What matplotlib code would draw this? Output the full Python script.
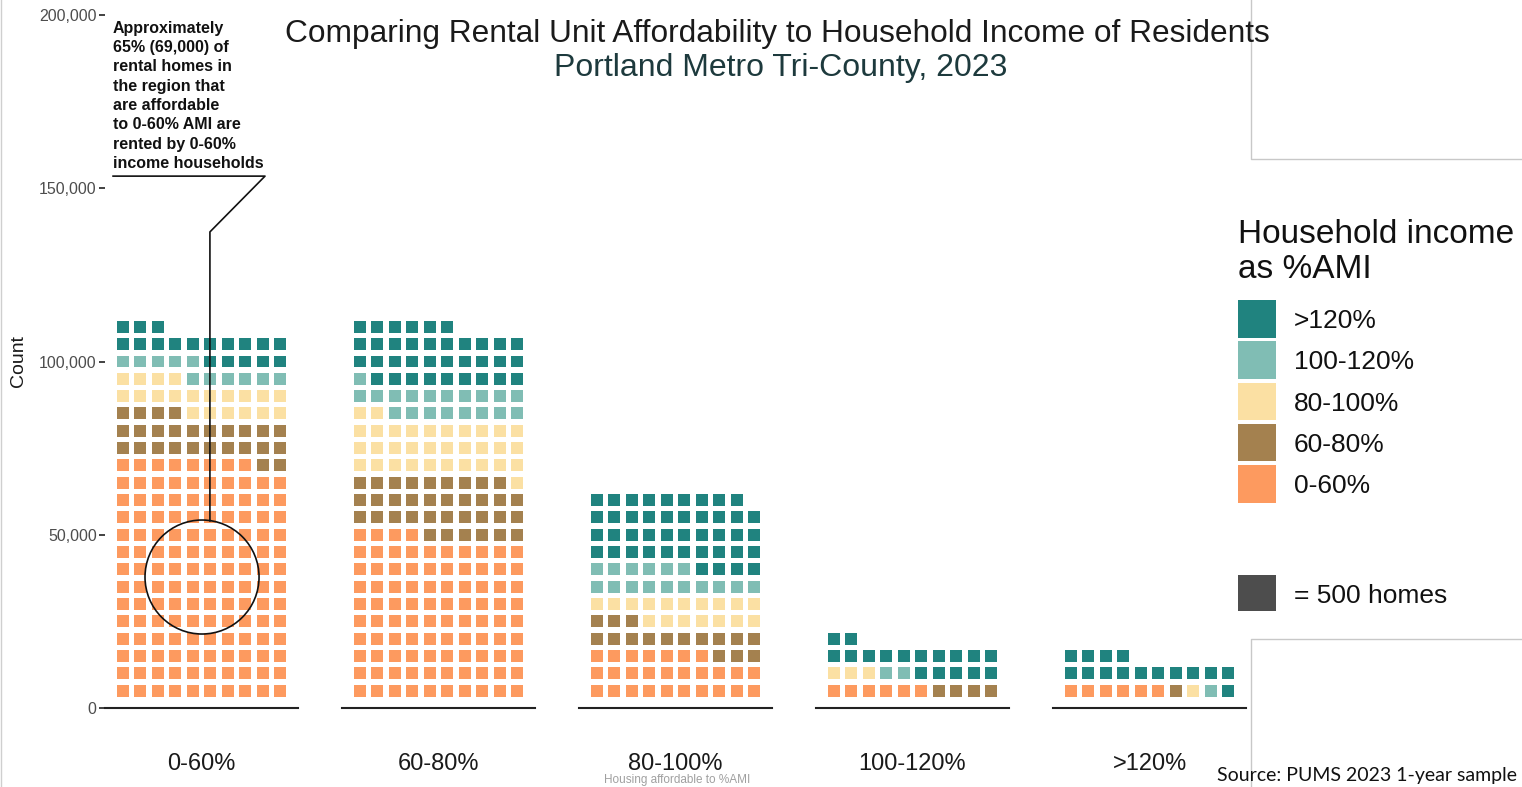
import matplotlib
matplotlib.use("Agg")
import matplotlib.pyplot as plt
import numpy as np
from matplotlib.patches import Rectangle, Ellipse
from matplotlib.lines import Line2D

plt.rcParams['font.family'] = ['Liberation Sans', 'DejaVu Sans']

# facets: rental units grouped by the %AMI they are affordable to
groups = ["0-60%", "60-80%", "80-100%", "100-120%", ">120%"]
# household income of the renters, bottom to top in each waffle
income_levels = ["0-60%", "60-80%", "80-100%", "100-120%", ">120%"]
income_colors = ["#fd9a5f", "#a4814f", "#fbe0a3", "#80bdb4", "#20837f"]

# number of rental homes by household income (same order as income_levels)
homes_0_60 = [69000, 13000, 10000, 5500, 9000]
homes_60_80 = [47000, 17500, 16500, 9500, 17500]
homes_80_100 = [13500, 8000, 8500, 8000, 21500]
homes_100_120 = [3000, 2000, 1500, 1000, 8500]
homes_gt_120 = [3000, 500, 500, 500, 7500]
homes = [homes_0_60, homes_60_80, homes_80_100, homes_100_120, homes_gt_120]

homes_per_square = 500
squares_per_row = 10
row_value = homes_per_square * squares_per_row

y_ticks = [0, 50000, 100000, 150000, 200000]

W, H = 1522, 787
fig = plt.figure(figsize=(W / 100, H / 100), dpi=100)

def fx(px):
    return px / W

def fy(py):
    return 1 - py / H

# panel geometry (pixels)
panel_left, panel_step, panel_w = 105, 237, 193
panel_top, panel_bottom = 15, 708
sq_w = 0.68
sq_h = 3460

axes = []
for g, grp in enumerate(groups):
    left = panel_left + g * panel_step
    ax = fig.add_axes([fx(left), fy(panel_bottom), panel_w / W, (panel_bottom - panel_top) / H])
    ax.set_xlim(-1, squares_per_row)
    ax.set_ylim(0, 200000)
    for s in ['top', 'right', 'left']:
        ax.spines[s].set_visible(False)
    ax.spines['bottom'].set_linewidth(1.5)
    ax.spines['bottom'].set_color('#222222')
    ax.set_xticks([])
    ax.set_yticks(y_ticks)
    if g == 0:
        ax.set_yticklabels(['{:,}'.format(t) for t in y_ticks], fontsize=11.5, color='#4d4d4d')
        ax.tick_params(axis='y', length=4, width=1.3, color='#333333', pad=2)
    else:
        ax.tick_params(axis='y', length=0, labelleft=False)

    # waffle: fill left to right, bottom to top
    start = 0
    for lvl, n_homes in enumerate(homes[g]):
        n = int(round(n_homes / homes_per_square))
        idx = np.arange(start, start + n)
        start += n
        cols = idx % squares_per_row
        rows = idx // squares_per_row
        centers = (rows + 1) * row_value
        ax.bar(cols, sq_h, bottom=centers - sq_h / 2, width=sq_w,
               color=income_colors[lvl], linewidth=0)

    ax.text(4.5, -0.081, grp, transform=ax.get_xaxis_transform(),
            ha='center', va='center', fontsize=17, color='#1a1a1a')
    axes.append(ax)

# annotation on the first panel
ax0 = axes[0]
ax0.add_patch(Ellipse((4.53, 37800), 6.5, 32900, fill=False, edgecolor='#111111',
                      linewidth=1.2, clip_on=False, zorder=5))
ax0.plot([4.98, 4.98, 8.12, -0.54], [54000, 137400, 153500, 153500],
         color='#111111', linewidth=1.2, clip_on=False, zorder=5)
ax0.text(-0.54, 155000,
         "Approximately\n65% (69,000) of\nrental homes in\nthe region that\nare affordable\n"
         "to 0-60% AMI are\nrented by 0-60%\nincome households",
         ha='left', va='bottom', fontsize=11.5, fontweight='bold', color='#111111',
         linespacing=1.36, clip_on=False)

# titles
fig.text(fx(777), fy(34), "Comparing Rental Unit Affordability to Household Income of Residents",
         ha='center', va='center', fontsize=22.8, color='#1a1a1a')
fig.text(fx(781), fy(68), "Portland Metro Tri-County, 2023",
         ha='center', va='center', fontsize=23, color='#1d3a3d')

fig.text(fx(18), fy(361), "Count", rotation=90, ha='center', va='center',
         fontsize=14, color='#1a1a1a')
fig.text(fx(677), fy(786.5), "Housing affordable to %AMI", ha='center', va='bottom',
         fontsize=8.5, color='#a0a0a0')

# legend drawn in pixel coordinates
lg = fig.add_axes([fx(1230), 0, (W - 1230) / W, 1])
lg.set_xlim(1230, W)
lg.set_ylim(H, 0)
lg.axis('off')
lg.text(1238, 243, "Household income", fontsize=24, va='baseline', ha='left', color='#111111')
lg.text(1238, 278, "as %AMI", fontsize=24, va='baseline', ha='left', color='#111111')
for i, lvl in enumerate(income_levels[::-1]):
    top = 300 + i * 41.3
    lg.add_patch(Rectangle((1238, top), 38, 37.5, facecolor=income_colors[::-1][i],
                           edgecolor='none'))
    lg.text(1294, top + 21, lvl, fontsize=19, va='center', ha='left', color='#111111')
lg.add_patch(Rectangle((1238, 575), 38, 36, facecolor='#4d4d4d', edgecolor='none'))
lg.text(1294, 596, "= {} homes".format(homes_per_square), fontsize=19, va='center',
        ha='left', color='#111111')

# stray frame outlines at the right edge
lg.plot([W, 1250.5, 1250.5], [158.5, 158.5, 0], color='#c8c8c8', linewidth=1, clip_on=False)
lg.plot([W, 1250.5, 1250.5], [638.5, 638.5, H], color='#c8c8c8', linewidth=1, clip_on=False)

fig.add_artist(Line2D([fx(1.5), fx(1.5)], [0, 1], color='#cfcfcf', linewidth=1,
                      transform=fig.transFigure))

fig.text(fx(1517), fy(776), "Source: PUMS 2023 1-year sample", ha='right', va='center',
         fontsize=14, family=['Lato', 'DejaVu Sans'], color='#111111')

fig.savefig("out.png", dpi=100, facecolor='white')
